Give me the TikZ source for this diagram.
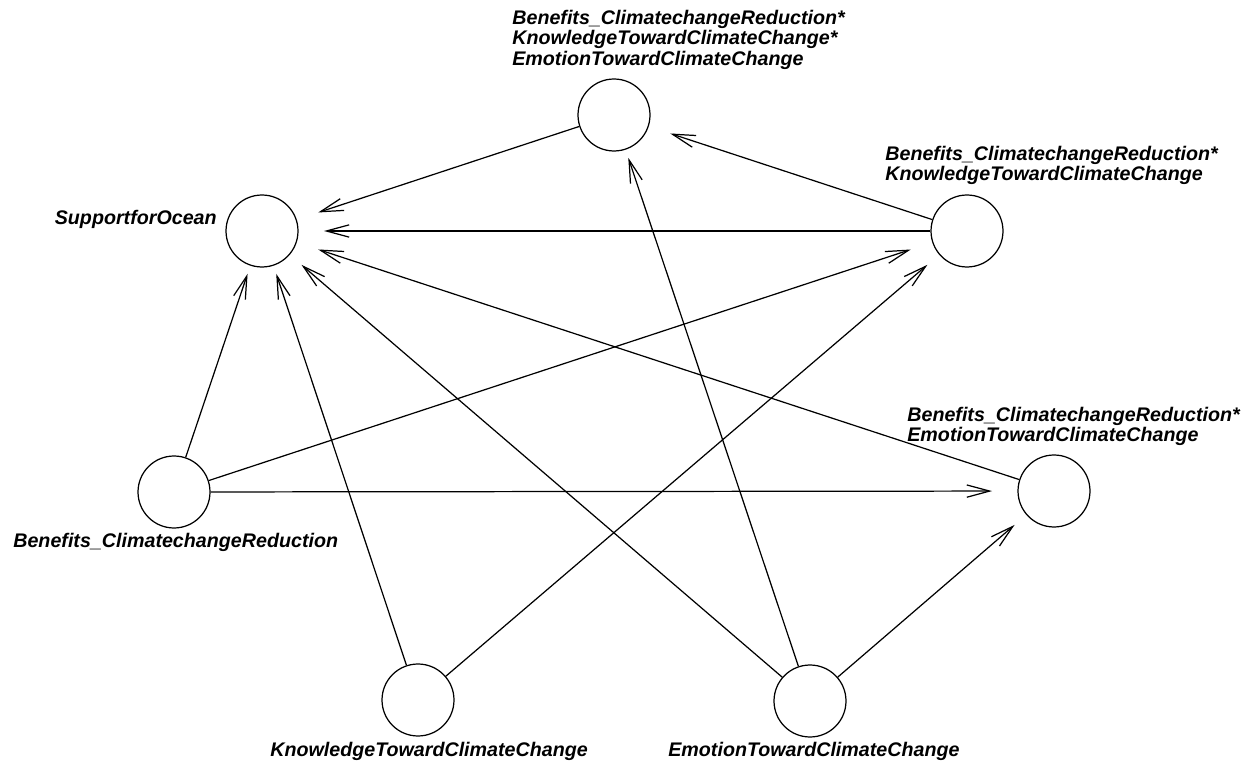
\documentclass[tikz,border=0pt]{standalone}
\usepackage{fontspec}
\setmainfont{Liberation Sans}
\usetikzlibrary{arrows.meta,shapes.geometric}

\begin{document}
\begin{tikzpicture}[
          x=0.02cm, y=-0.02cm,
          var/.style={draw,circle,minimum size=1.44cm,inner sep=0pt,line width=0.7pt},
          halo/.style={ellipse,minimum width=2.48cm,minimum height=1.76cm,inner sep=0pt,outer sep=0pt},
          lbl/.style={inner sep=0pt,align=left,font=\fontsize{11.2}{11.6}\selectfont\bfseries\itshape},
          arr/.style={-{Straight Barb[length=13pt,width=7pt]},line width=0.7pt}
          ]

          \useasboundingbox (0,0) rectangle (1255,763);

          % variables
          \node[var] (so) at (262,231) {};
          \node[var] (tri) at (614,115) {};
          \node[var] (bk) at (967,231) {};
          \node[var] (be) at (1054,491) {};
          \node[var] (ben) at (174,492) {};
          \node[var] (kn) at (418,700) {};
          \node[var] (em) at (810,701) {};

          % where the arrows stop
          \node[halo] (so-t) at (so) {};
          \node[halo] (tri-t) at (tri) {};
          \node[halo] (bk-t) at (bk) {};
          \node[halo] (be-t) at (be) {};

          % labels
          \node[lbl,anchor=base east] at (217,225) {SupportforOcean};
          \node[lbl,anchor=north west] at (512,10)
            {Benefits\_ClimatechangeReduction*\\KnowledgeTowardClimateChange*\\EmotionTowardClimateChange};
          \node[lbl,anchor=north west] at (885,146)
            {Benefits\_ClimatechangeReduction*\\KnowledgeTowardClimateChange};
          \node[lbl,anchor=north west] at (907,407)
            {Benefits\_ClimatechangeReduction*\\EmotionTowardClimateChange};
          \node[lbl,anchor=base west] at (13,547) {Benefits\_ClimatechangeReduction};
          \node[lbl,anchor=base west] at (270,756) {KnowledgeTowardClimateChange};
          \node[lbl,anchor=base west] at (668,756) {EmotionTowardClimateChange};

          \path (tri) edge[arr] (so-t)
          (bk) edge[arr] (so-t)
          (bk) edge[arr] (tri-t)
          (be) edge[arr] (so-t)
          (ben) edge[arr] (so-t)
          (ben) edge[arr] (bk-t)
          (ben) edge[arr] (be-t)
          (kn) edge[arr] (so-t)
          (kn) edge[arr] (bk-t)
          (em) edge[arr] (so-t)
          (em) edge[arr] (tri-t)
          (em) edge[arr] (be-t)
          ;
        \end{tikzpicture}
\end{document}
